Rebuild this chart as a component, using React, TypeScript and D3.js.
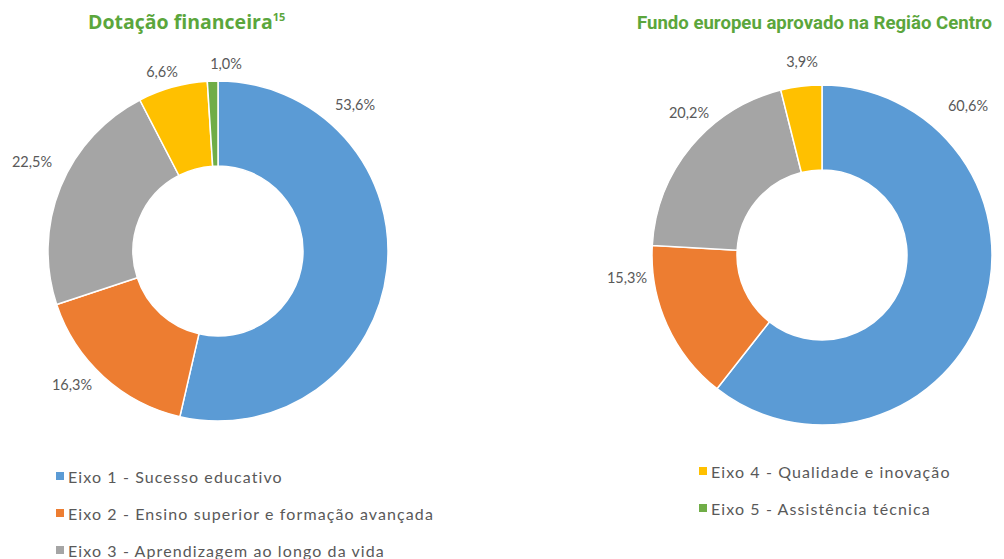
import React from "react";
import * as d3 from "d3";

const categories = [
  "Eixo 1 - Sucesso educativo",
  "Eixo 2 - Ensino superior e formação avançada",
  "Eixo 3 - Aprendizagem ao longo da vida",
  "Eixo 4 - Qualidade e inovação",
  "Eixo 5 - Assistência técnica",
];
const dotacao = [53.6, 16.3, 22.5, 6.6, 1.0];
const fundo = [60.6, 15.3, 20.2, 3.9, 0];
const colors = ["#5B9BD5", "#ED7D31", "#A5A5A5", "#FFC000", "#70AD47"];

// label offsets relative to each donut centre (layout only)
const leftLabelOffsets: [number, number][] = [
  [137, -147], [-146, 133], [-186, -90], [-56, -180], [8, -188],
];
const rightLabelOffsets: [number, number][] = [
  [146, -150], [-195, 22], [-133, -143], [-20, -194], [0, 0],
];

const fmt = (v: number) => v.toFixed(1).replace(".", ",") + "%";

function Donut({ values, cx, cy, offsets }: { values: number[]; cx: number; cy: number; offsets: [number, number][] }) {
  const pie = d3.pie<number>().sort(null).value((d) => d);
  const arcs = pie(values);
  const arc = d3.arc<d3.PieArcDatum<number>>().innerRadius(85).outerRadius(170);
  return (
    <g transform={`translate(${cx},${cy})`}>
      {arcs.map((a, i) =>
        a.value > 0 ? (
          <path key={i} d={arc(a) || ""} fill={colors[i]} stroke="#fff" strokeWidth={1.5} />
        ) : null
      )}
      {arcs.map((a, i) =>
        a.value > 0 ? (
          <text key={"t" + i} x={offsets[i][0]} y={offsets[i][1]} textAnchor="middle" dominantBaseline="central"
            fontSize={14.5} fill="#595959" fontFamily="Lato, 'Open Sans', sans-serif">
            {fmt(a.value)}
          </text>
        ) : null
      )}
    </g>
  );
}

export default function App() {
  const legendLeft = [0, 1, 2];
  const legendRight = [3, 4];
  return (
    <svg width={1004} height={559} style={{ position: "absolute", left: 0, top: 0, background: "#fff" }}
      fontFamily="Lato, 'Open Sans', sans-serif">
      <text x={88} y={29} fontSize={19.5} fontWeight={700} fill="#5BA63C" fontFamily="'Open Sans', sans-serif">
        Dotação financeira<tspan fontSize={11} dy={-8}>15</tspan>
      </text>
      <text x={637} y={29} fontSize={18.5} fontWeight={700} fill="#5BA63C" fontFamily="Roboto, 'Open Sans', sans-serif"
        textLength={355} lengthAdjust="spacingAndGlyphs">
        Fundo europeu aprovado na Região Centro
      </text>
      <Donut values={dotacao} cx={218} cy={251} offsets={leftLabelOffsets} />
      <Donut values={fundo} cx={822} cy={255} offsets={rightLabelOffsets} />
      {legendLeft.map((c, i) => (
        <g key={c} transform={`translate(56,${476 + i * 37})`}>
          <rect x={0} y={-4} width={8} height={8} fill={colors[c]} />
          <text x={12} y={0} dominantBaseline="central" fontSize={16} fill="#595959" letterSpacing={1.1}>
            {categories[c]}
          </text>
        </g>
      ))}
      {legendRight.map((c, i) => (
        <g key={c} transform={`translate(699,${471 + i * 37})`}>
          <rect x={0} y={-4} width={8} height={8} fill={colors[c]} />
          <text x={12} y={0} dominantBaseline="central" fontSize={16} fill="#595959" letterSpacing={1.1}>
            {categories[c]}
          </text>
        </g>
      ))}
    </svg>
  );
}
